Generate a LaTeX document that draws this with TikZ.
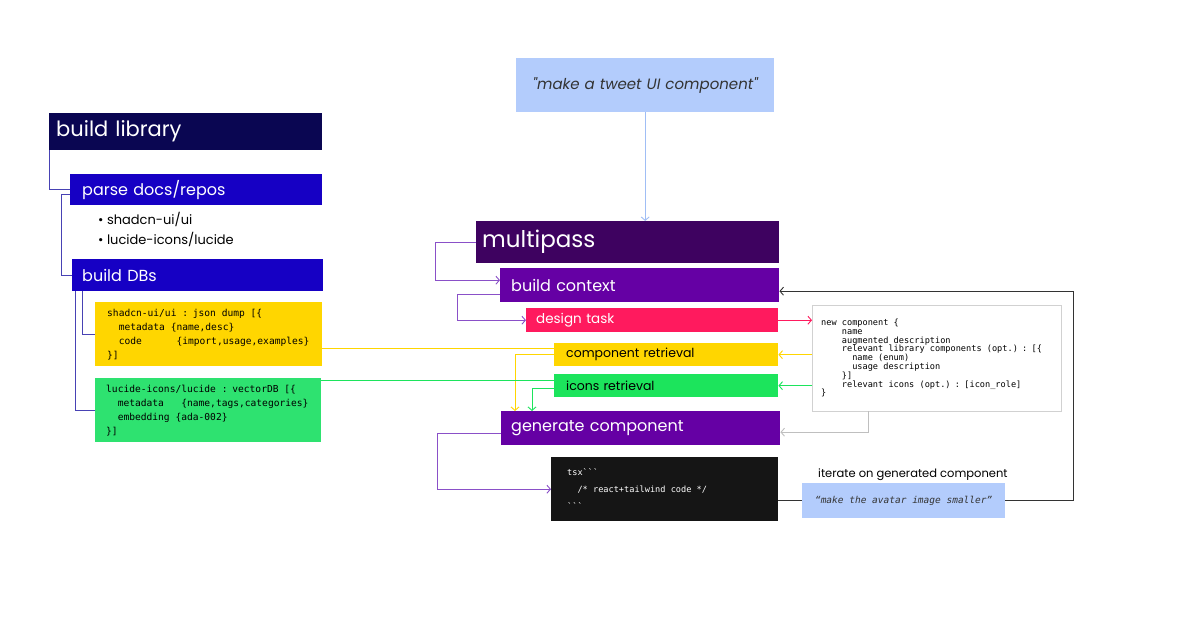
\documentclass[tikz,border=0pt]{standalone}
\usepackage{fontspec}
\setmainfont{Poppins}[Ligatures=TeXOff]
\setmonofont{DejaVu Sans Mono}[WordSpace={1,0,0}]
\usetikzlibrary{arrows.meta, positioning}
\definecolor{navy}{RGB}{10,6,82}
\definecolor{libblue}{RGB}{22,0,196}
\definecolor{dbyellow}{RGB}{255,214,0}
\definecolor{dbgreen}{RGB}{46,226,112}
\definecolor{icgreen}{RGB}{28,228,92}
\definecolor{mpurple}{RGB}{62,2,96}
\definecolor{spurple}{RGB}{101,0,164}
\definecolor{taskpink}{RGB}{255,26,94}
\definecolor{promptblue}{RGB}{179,204,252}
\definecolor{promptline}{RGB}{160,190,245}
\definecolor{codeblack}{RGB}{21,21,21}
\definecolor{libline}{RGB}{72,66,180}
\definecolor{mpline}{RGB}{138,80,200}
\definecolor{loopgray}{RGB}{51,51,51}
\tikzset{
    box/.style={anchor=north west, inner ysep=0pt, align=left},
    monospace/.style={execute at begin node={\spaceskip=\fontcharwd\font`x\relax}},
    libnode/.style={box, fill=libblue, text=white, font=\fontsize{16}{19}\selectfont},
    dbnode/.style={box, monospace, text=black, minimum height=64pt, font=\ttfamily\fontsize{9.6}{14}\selectfont},
    passnode/.style={box, fill=spurple, text=white, minimum height=34pt, font=\fontsize{16}{19}\selectfont},
    retrnode/.style={box, text=black, minimum height=23pt, inner xsep=12pt, text width=200pt, font=\fontsize{12.5}{15}\selectfont},
    codenode/.style={box, monospace, font=\ttfamily\fontsize{8.6}{8.8}\selectfont},
    link/.style={line width=0.9pt},
    tip/.style={-{Straight Barb[length=3.5pt, width=8pt]}},
}
\begin{document}
\begin{tikzpicture}[x=1pt, y=-1pt]
    \fill[white] (0,0) rectangle (1200,630);
    \useasboundingbox (0,0) rectangle (1200,630);

    \node[box, fill=navy, text=white, font=\fontsize{21}{25}\selectfont, inner xsep=7pt, text width=259pt, minimum height=37pt] (buildlib) at (49,113) {build library};
    \node[libnode, inner xsep=12pt, text width=228pt, minimum height=31pt] (parse) at (70,174) {parse docs/repos};
    \node[box, inner sep=0pt, font=\fontsize{13}{20}\selectfont] (repos) at (98,212) {\textbullet\ shadcn-ui/ui\\\textbullet\ lucide-icons/lucide};
    \node[libnode, inner xsep=10pt, text width=231pt, minimum height=32pt] (dbs) at (72,259) {build DBs};
    \node[dbnode, fill=dbyellow, inner xsep=12pt, text width=203pt] (jsondb) at (95,302)
        {shadcn-ui/ui : json dump [\{\\\phantom{xx}metadata \{name,desc\}\\\phantom{xx}code\phantom{xxxxx} \{import,usage,examples\}\\\}]};
    \node[dbnode, fill=dbgreen, inner xsep=11pt, text width=204pt] (vecdb) at (95,378)
        {lucide-icons/lucide : vectorDB [\{\\\phantom{xx}metadata\phantom{xx} \{name,tags,categories\}\\\phantom{xx}embedding \{ada-002\}\\\}]};

    \node[box, fill=promptblue, text=black!80, align=center, inner xsep=12pt, text width=234pt, minimum height=54pt, font=\itshape\fontsize{15}{18}\selectfont] (prompt) at (516,58) {"make a tweet UI component"};
    \node[box, fill=mpurple, text=white, inner xsep=6pt, text width=291pt, minimum height=42pt, font=\fontsize{23}{27}\selectfont] (multipass) at (476,221) {multipass};
    \node[passnode, inner xsep=11pt, text width=257pt] (context) at (500,268) {build context};
    \node[box, fill=taskpink, text=white, inner xsep=10pt, text width=232pt, minimum height=24pt, font=\fontsize{13.5}{16}\selectfont] (design) at (526,308) {design task};
    \node[retrnode, fill=dbyellow] (comp) at (554,343) {component retrieval};
    \node[retrnode, fill=icgreen] (icons) at (554,374) {icons retrieval};
    \node[passnode, inner xsep=10pt, text width=259pt] (gen) at (501,411) {generate component};
    \node[codenode, fill=codeblack, text=white, inner xsep=16pt, text width=195pt, minimum height=64pt, font=\ttfamily\fontsize{8.6}{17}\selectfont] (code) at (551,457)
        {tsx```\\\phantom{xx}/* react+tailwind code */\\```};
    \node[codenode, fill=white, draw=black!18, text=black, inner xsep=9pt, text width=231pt, minimum height=106pt] (json) at (812,305)
        {new component \{\\\phantom{xxxx}name\\\phantom{xxxx}augmented description\\\phantom{xxxx}relevant library components (opt.) : [\{\\\phantom{xxxxxx}name (enum)\\\phantom{xxxxxx}usage description\\\phantom{xxxx}\}]\\\phantom{xxxx}relevant icons (opt.) : [icon\_role]\\\}};
    \node[box, monospace, fill=promptblue, text=black!80, align=center, inner xsep=8pt, text width=187pt, minimum height=35pt, font=\ttfamily\itshape\fontsize{9.5}{12}\selectfont] (avatar) at (802,483) {“make the avatar image smaller”};
    \node[above right=2pt and 16pt of avatar.north west, inner sep=0pt, font=\fontsize{11.5}{14}\selectfont] (iterate) {iterate on generated component};

    \draw[link, libline] (buildlib.south west) |- (parse.west);
    \draw[link, libline] ([yshift=-5pt]parse.west) -- ++(-9,0) |- (dbs.west);
    \draw[link, libline] ([xshift=10pt]dbs.south west) |- (jsondb.west);
    \draw[link, libline] ([xshift=3pt]dbs.south west) |- (vecdb.west);

    \draw[link, tip, promptline] (prompt.south) -- (prompt.south |- multipass.north);
    \draw[link, tip, mpline] (multipass.west) -- ++(-41,0) |- ([yshift=5pt]context.west);
    \draw[link, tip, mpline] ([yshift=-9pt]context.west) -- ++(-43,0) |- (design.west);
    \draw[link, tip, taskpink] (design.east) -- (design.east -| json.west);
    \draw[link, tip, dbyellow] (json.west |- comp.east) -- (comp.east);
    \draw[link, tip, icgreen] (json.west |- icons.east) -- (icons.east);
    \draw[link, tip, black!25] ([xshift=56pt]json.south west) |- ([yshift=-4pt]gen.east);
    \draw[link, dbyellow] ([yshift=-14pt]jsondb.east) -- ([yshift=-14pt]jsondb.east -| comp.west);
    \draw[link, tip, dbyellow] (comp.west) -| ([xshift=14pt]gen.north west);
    \draw[link, icgreen] ([yshift=-2pt]vecdb.north east) -- ([yshift=-2pt]vecdb.north east -| icons.west);
    \draw[link, tip, icgreen] ([yshift=-3pt]icons.west) -| ([xshift=31pt]gen.north west);
    \draw[link, tip, mpline] ([yshift=-5pt]gen.west) -- ++(-64,0) |- (code.west);
    \draw[link, loopgray] (avatar.west -| code.east) -- (avatar.west);
    \draw[link, tip, loopgray] (avatar.east) -- ++(68,0) |- ([yshift=-6pt]context.east);
\end{tikzpicture}
\end{document}
